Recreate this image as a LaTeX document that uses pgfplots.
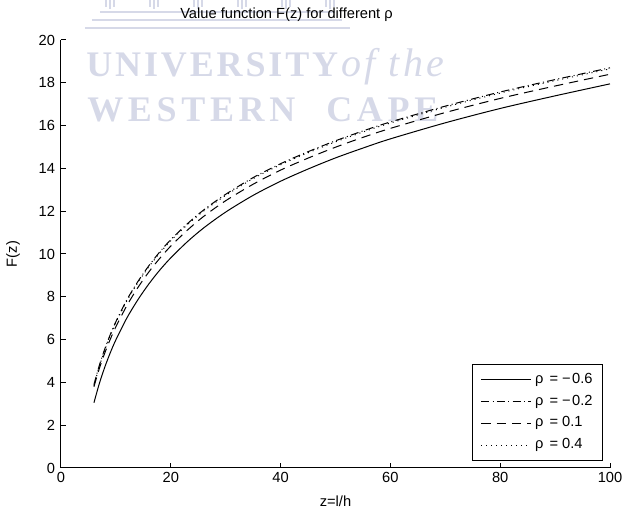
\documentclass[border=0pt]{standalone}
\usepackage{fontspec}
\setmainfont{Liberation Sans}
\newfontfamily\wmserif{Liberation Serif}
\usepackage{pgfplots}
\pgfplotsset{compat=1.18}
\definecolor{crest}{RGB}{214,217,232}

% F(z) for the four correlation values
\pgfplotstableread{
z     F
6     3.05
7     3.96
8     4.73
9     5.40
10    5.99
12    7.01
14    7.86
16    8.60
18    9.25
20    9.82
23    10.57
26    11.22
30    11.96
35    12.74
40    13.40
45    13.97
50    14.49
55    14.95
60    15.38
70    16.13
80    16.80
90    17.39
100   17.95
}\rhoA
\pgfplotstableread{
z     F
6     3.90
7     4.81
8     5.58
9     6.25
10    6.84
12    7.86
14    8.71
16    9.45
18    10.10
20    10.67
23    11.41
26    12.06
30    12.79
35    13.57
40    14.22
45    14.78
50    15.29
55    15.75
60    16.17
70    16.91
80    17.57
90    18.15
100   18.70
}\rhoB
\pgfplotstableread{
z     F
6     3.80
7     4.66
8     5.39
9     6.03
10    6.60
12    7.59
14    8.43
16    9.16
18    9.80
20    10.37
23    11.11
26    11.76
30    12.49
35    13.26
40    13.92
45    14.48
50    14.99
55    15.45
60    15.87
70    16.61
80    17.27
90    17.85
100   18.40
}\rhoC
\pgfplotstableread{
z     F
6     3.85
7     4.76
8     5.53
9     6.20
10    6.79
12    7.81
14    8.66
16    9.40
18    10.05
20    10.62
23    11.36
26    12.01
30    12.74
35    13.52
40    14.17
45    14.73
50    15.24
55    15.70
60    16.12
70    16.86
80    17.52
90    18.10
100   18.65
}\rhoD

\begin{document}
\begin{tikzpicture}
% faint crest behind the plot
\begin{scope}[crest]
  \draw[line width=1.8pt] (29.25pt,342pt) -- (205.5pt,342pt);
  \draw[line width=1.8pt] (23.25pt,336pt) -- (210.75pt,336pt);
  \draw[line width=1.8pt] (18pt,330pt) -- (216.75pt,330pt);
  \foreach \cx in {36.75,69.75,102.75,135.75,168.75,201.75}{
    \draw[line width=1pt] (\cx pt-3pt,351pt) -- (\cx pt-3pt,346pt);
    \draw[line width=1.4pt] (\cx pt,351pt) -- (\cx pt,344pt);
    \draw[line width=1pt] (\cx pt+3pt,351pt) -- (\cx pt+3pt,346pt);
  }
  \node[anchor=base west, inner sep=0pt, text=crest,
        font=\wmserif\bfseries\fontsize{27}{27}\selectfont]
        at (18.75pt,293.25pt) {\addfontfeatures{LetterSpace=8}UNIVERSITY};
  \node[anchor=base west, inner sep=0pt, text=crest,
        font=\wmserif\itshape\fontsize{30}{30}\selectfont]
        at (210pt,293.25pt) {\addfontfeatures{LetterSpace=8}of the};
  \node[anchor=base west, inner sep=0pt, text=crest,
        font=\wmserif\bfseries\fontsize{27}{27}\selectfont]
        at (19.5pt,259.5pt) {\addfontfeatures{LetterSpace=13}WESTERN};
  \node[anchor=base west, inner sep=0pt, text=crest,
        font=\wmserif\bfseries\fontsize{27}{27}\selectfont]
        at (198.75pt,259.5pt) {\addfontfeatures{LetterSpace=13}CAPE};
\end{scope}

\begin{axis}[
  scale only axis,
  width=411.75pt, height=321pt,
  xmin=0, xmax=100, ymin=0, ymax=20,
  axis x line*=bottom, axis y line*=left,
  axis line style={-, line width=0.75pt, black},
  xtick={0,20,...,100}, ytick={0,2,...,20},
  tick align=inside, major tick length=3.75pt,
  tick style={black, line width=0.75pt},
  ticklabel style={font=\fontsize{11}{13}\selectfont},
  yticklabel style={xshift=-1pt},
  /pgf/number format/assume math mode=true,
  title={Value function F(z) for different ρ},
  title style={at={(axis description cs:0.5,1)}, anchor=base,
               yshift=9.75pt, xshift=-36.75pt,
               font=\fontsize{11}{13}\selectfont},
  xlabel={z=l/h},
  xlabel style={at={(axis description cs:0.5,0)}, anchor=base, yshift=-29.25pt,
                font=\fontsize{11}{13}\selectfont},
  ylabel={F(z)},
  ylabel style={at={(axis description cs:-0.0874,0.5)}, anchor=center,
                font=\fontsize{11}{13}\selectfont},
  legend cell align=left,
  legend image code/.code={\draw[#1] (0pt,0pt) -- (37.5pt,0pt);},
  legend style={at={(axis description cs:1,0)}, anchor=south east,
                xshift=-5.25pt, yshift=5.25pt,
                draw=black, line width=0.75pt,
                font=\fontsize{11}{13}\selectfont,
                inner xsep=6pt, inner ysep=5pt, row sep=3.3pt, column sep=1pt,
                nodes={inner sep=1.5pt, text height=7.5pt, text depth=2.5pt}},
]
\addplot[black, line width=0.75pt, smooth] table[x=z, y=F] {\rhoA};
\addlegendentry{ρ\hspace{1.5pt} = −\hspace{1pt}0.6}
\addplot[black, line width=0.75pt, smooth,
         dash pattern=on 6pt off 2.5pt on 0.75pt off 2.5pt] table[x=z, y=F] {\rhoB};
\addlegendentry{ρ\hspace{1.5pt} = −\hspace{1pt}0.2}
\addplot[black, line width=0.75pt, smooth,
         dash pattern=on 7pt off 4.5pt] table[x=z, y=F] {\rhoC};
\addlegendentry{ρ\hspace{1.5pt} = 0.1}
\addplot[black, line width=0.75pt, smooth,
         dash pattern=on 0.75pt off 3pt] table[x=z, y=F] {\rhoD};
\addlegendentry{ρ\hspace{1.5pt} = 0.4}
\end{axis}

\pgfresetboundingbox
\path[use as bounding box] (-45.75pt,-36.75pt) rectangle (420.75pt,351pt);
\end{tikzpicture}
\end{document}
